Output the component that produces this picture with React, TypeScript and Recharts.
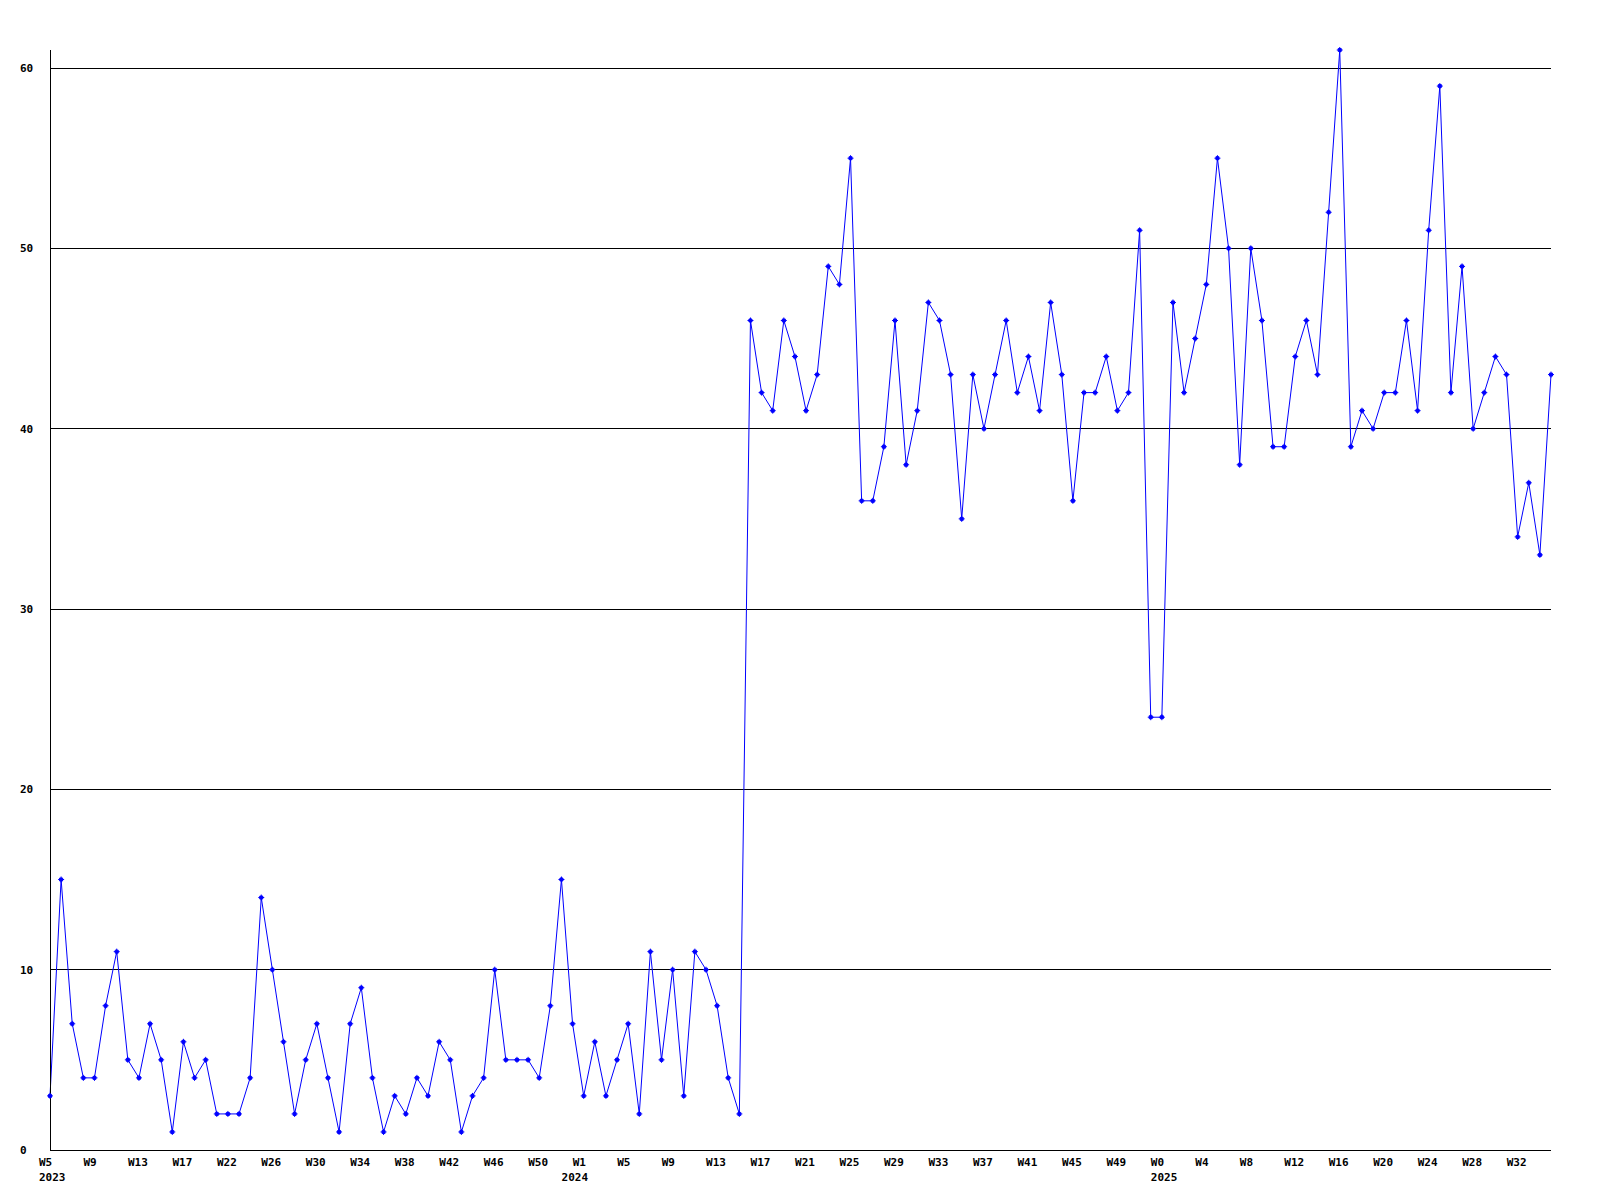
import React from 'react';
import { LineChart, Line, XAxis, YAxis, CartesianGrid } from 'recharts';

//━━━━━━━━━━━━━━━━━━━━━━━━━━━━━━━━━━━━━━━━━━━━━━━━━━━━━━━━━━
// DATA
//━━━━━━━━━━━━━━━━━━━━━━━━━━━━━━━━━━━━━━━━━━━━━━━━━━━━━━━━━━

// weekly counts, 2023 W5 onwards
const weeklyValues = [
  3, 15, 7, 4, 4, 8, 11, 5, 4, 7, 5, 1, 6, 4, 5, 2, 2, 2, 4, 14,
  10, 6, 2, 5, 7, 4, 1, 7, 9, 4, 1, 3, 2, 4, 3, 6, 5, 1, 3, 4,
  10, 5, 5, 5, 4, 8, 15, 7, 3, 6, 3, 5, 7, 2, 11, 5, 10, 3, 11, 10,
  8, 4, 2, 46, 42, 41, 46, 44, 41, 43, 49, 48, 55, 36, 36, 39, 46, 38, 41, 47,
  46, 43, 35, 43, 40, 43, 46, 42, 44, 41, 47, 43, 36, 42, 42, 44, 41, 42, 51, 24,
  24, 47, 42, 45, 48, 55, 50, 38, 50, 46, 39, 39, 44, 46, 43, 52, 61, 39, 41, 40,
  42, 42, 46, 41, 51, 59, 42, 49, 40, 42, 44, 43, 34, 37, 33, 43,
];

// one label every 4th week
const weekLabels = [
  'W5', 'W9', 'W13', 'W17', 'W22', 'W26', 'W30', 'W34', 'W38', 'W42', 'W46', 'W50',
  'W1', 'W5', 'W9', 'W13', 'W17', 'W21', 'W25', 'W29', 'W33', 'W37', 'W41', 'W45', 'W49',
  'W0', 'W4', 'W8', 'W12', 'W16', 'W20', 'W24', 'W28', 'W32',
];
const weekLabelStep = 4;

const yearLabels = ['2023', '2024', '2025'];
const yearStartIndex = [0, 47, 100];

const yTicks = [0, 10, 20, 30, 40, 50, 60];

//━━━━━━━━━━━━━━━━━━━━━━━━━━━━━━━━━━━━━━━━━━━━━━━━━━━━━━━━━━
// STYLES
//━━━━━━━━━━━━━━━━━━━━━━━━━━━━━━━━━━━━━━━━━━━━━━━━━━━━━━━━━━

const colors = {
  line: '#0000ff',
  axis: '#000000',
  text: '#000000',
};

const labelFont = {
  fontFamily: '"DejaVu Sans Mono", monospace',
  fontSize: 11,
  fontWeight: 'bold' as const,
};

const chartData = weeklyValues.map((value, idx) => ({ idx, value }));

const weekTickIdx = weekLabels.map((_, i) => i * weekLabelStep);
const xTicks = Array.from(new Set([...weekTickIdx, ...yearStartIndex])).sort((a, b) => a - b);

//━━━━━━━━━━━━━━━━━━━━━━━━━━━━━━━━━━━━━━━━━━━━━━━━━━━━━━━━━━
// TICKS & DOTS
//━━━━━━━━━━━━━━━━━━━━━━━━━━━━━━━━━━━━━━━━━━━━━━━━━━━━━━━━━━

function WeekTick(props: any) {
  const { x, y, payload } = props;
  const idx = payload.value as number;
  const wi = weekTickIdx.indexOf(idx);
  const yi = yearStartIndex.indexOf(idx);
  return (
    <g>
      {wi >= 0 && (
        <text x={x - 11} y={y + 8} textAnchor="start" fill={colors.text} {...labelFont}>
          {weekLabels[wi]}
        </text>
      )}
      {yi >= 0 && (
        <text x={x - 11} y={y + 23} textAnchor="start" fill={colors.text} {...labelFont}>
          {yearLabels[yi]}
        </text>
      )}
    </g>
  );
}

function ValueTick(props: any) {
  const { y, payload } = props;
  return (
    <text x={20} y={y + 4} textAnchor="start" fill={colors.text} {...labelFont}>
      {payload.value}
    </text>
  );
}

function PlusDot(props: any) {
  const { cx, cy, index } = props;
  if (cx == null || cy == null) return null;
  return (
    <path
      key={`dot-${index}`}
      d={`M${cx - 3},${cy} h6 M${cx},${cy - 3} v6 M${cx - 1.5},${cy - 1.5} h3 v3 h-3 z`}
      stroke={colors.line}
      strokeWidth={1}
      fill={colors.line}
    />
  );
}

//━━━━━━━━━━━━━━━━━━━━━━━━━━━━━━━━━━━━━━━━━━━━━━━━━━━━━━━━━━
// APP
//━━━━━━━━━━━━━━━━━━━━━━━━━━━━━━━━━━━━━━━━━━━━━━━━━━━━━━━━━━

export default function App(): React.ReactElement {
  return (
    <div style={{ position: 'absolute', left: 0, top: 0, background: '#fff' }}>
      <LineChart
        width={1600}
        height={1200}
        data={chartData}
        margin={{ top: 50, right: 49, left: 0, bottom: 0 }}
      >
        <CartesianGrid
          vertical={false}
          horizontalValues={yTicks}
          stroke={colors.axis}
          strokeWidth={1}
          shapeRendering="crispEdges"
        />
        <XAxis
          type="number"
          dataKey="idx"
          domain={[0, weeklyValues.length - 1]}
          ticks={xTicks}
          interval={0}
          height={50}
          axisLine={{ stroke: colors.axis, shapeRendering: 'crispEdges' }}
          tickLine={false}
          tick={<WeekTick />}
        />
        <YAxis
          type="number"
          domain={[0, 'dataMax']}
          ticks={yTicks}
          width={50}
          axisLine={{ stroke: colors.axis, shapeRendering: 'crispEdges' }}
          tickLine={false}
          tick={<ValueTick />}
        />
        <Line
          type="linear"
          dataKey="value"
          stroke={colors.line}
          strokeWidth={1}
          dot={PlusDot}
          activeDot={false}
          isAnimationActive={false}
        />
      </LineChart>
    </div>
  );
}
